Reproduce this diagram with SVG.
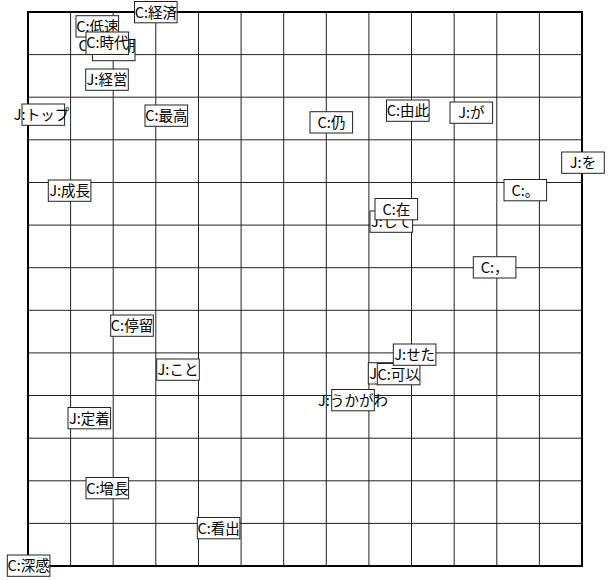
<svg xmlns="http://www.w3.org/2000/svg" width="608" height="580" viewBox="0 0 608 580">
<style>
.bg{fill:#fff}
.grid{fill:none;stroke:#222;stroke-width:1}
.frame{fill:none;stroke:#000;stroke-width:2}
.node rect{fill:#fff;stroke:#222;stroke-width:1}
.node text{font-family:"Noto Sans CJK JP","Noto Sans CJK SC",sans-serif;font-size:14.5px;text-anchor:middle;fill:#000}
</style>
<rect class="bg" x="0" y="0" width="608" height="580"/>
<g id="grid">
<path class="grid" d="M70.6 12V566M113.2 12V566M155.8 12V566M198.5 12V566M241.1 12V566M283.7 12V566M326.3 12V566M368.9 12V566M411.5 12V566M454.2 12V566M496.8 12V566M539.4 12V566
M28 54.6H582M28 97.2H582M28 139.8H582M28 182.5H582M28 225.1H582M28 267.7H582M28 310.3H582M28 352.9H582M28 395.5H582M28 438.2H582M28 480.8H582M28 523.4H582"/>
<rect class="frame" x="28" y="12" width="554" height="554"/>
</g>
<g id="connectors"></g>
<g id="n-keizai" class="node"><rect x="134.5" y="1.5" width="42.6" height="21.3"/><text x="155.8" y="17.5">C:経済</text></g>
<g id="n-teisoku" class="node"><rect x="76" y="15.7" width="42.6" height="21.3"/><text x="97.3" y="31.7">C:低速</text></g>
<g id="n-seichoki" class="node"><rect x="92.4" y="39.4" width="42.6" height="21.3"/><text x="107" y="50.5">C:成長期</text></g>
<g id="n-jidai" class="node"><rect x="86" y="32" width="42.6" height="22.5"/><text x="107.3" y="48">C:時代</text></g>
<g id="n-keiei" class="node"><rect x="85.7" y="69" width="42.6" height="21.3"/><text x="107" y="85">J:経営</text></g>
<g id="n-top" class="node"><rect x="22" y="104" width="42.6" height="21.3"/><text x="41.5" y="120">J:トップ</text></g>
<g id="n-saiko" class="node"><rect x="145" y="105" width="42.6" height="21.3"/><text x="166.3" y="121">C:最高</text></g>
<g id="n-reng" class="node"><rect x="310" y="111.7" width="42.6" height="21.3"/><text x="331.3" y="127.7">C:仍</text></g>
<g id="n-yuci" class="node"><rect x="386.5" y="100" width="42.6" height="21.3"/><text x="407.8" y="116">C:由此</text></g>
<g id="n-ga" class="node"><rect x="450" y="102" width="42.6" height="21.3"/><text x="471.3" y="118">J:が</text></g>
<g id="n-wo" class="node"><rect x="561.7" y="152" width="42.6" height="21.3"/><text x="583" y="168">J:を</text></g>
<g id="n-maru" class="node"><rect x="504" y="179.5" width="42.6" height="21.3"/><text x="525.3" y="195.5">C:。</text></g>
<g id="n-comma" class="node"><rect x="473.3" y="256.7" width="42.6" height="21.3"/><text x="494.6" y="272.7">C:，</text></g>
<g id="n-seicho" class="node"><rect x="48.3" y="180" width="42.6" height="21.3"/><text x="69.6" y="196">J:成長</text></g>
<g id="n-shite" class="node"><rect x="370" y="211" width="42.6" height="21.3"/><text x="391.3" y="227">J:して</text></g>
<g id="n-zai" class="node"><rect x="375" y="198.5" width="42.6" height="21.3"/><text x="396.3" y="214.5">C:在</text></g>
<g id="n-tingliu" class="node"><rect x="110.7" y="315" width="42.6" height="21.3"/><text x="132" y="331">C:停留</text></g>
<g id="n-koto" class="node"><rect x="156.7" y="359" width="42.6" height="21.3"/><text x="178" y="375">J:こと</text></g>
<g id="n-teichaku" class="node"><rect x="68" y="407.5" width="42.6" height="21.3"/><text x="89.3" y="423.5">J:定着</text></g>
<g id="n-kara" class="node"><rect x="368.3" y="362.7" width="42.6" height="21.3"/><text x="389.6" y="378.7">J:から</text></g>
<g id="n-keyi" class="node"><rect x="377.3" y="363.5" width="42.6" height="21.3"/><text x="398.6" y="379.5">C:可以</text></g>
<g id="n-seta" class="node"><rect x="393.3" y="344" width="42.6" height="21.3"/><text x="414.6" y="360">J:せた</text></g>
<g id="n-ukagawa" class="node"><rect x="331.7" y="389.5" width="42.6" height="21.3"/><text x="353" y="405.5">J:うかがわ</text></g>
<g id="n-zengzhang" class="node"><rect x="86" y="477.5" width="42.6" height="21.3"/><text x="107.3" y="493.5">C:增長</text></g>
<g id="n-kanchu" class="node"><rect x="197.3" y="517.5" width="42.6" height="21.3"/><text x="218.6" y="533.5">C:看出</text></g>
<g id="n-shengan" class="node"><rect x="7.3" y="555" width="42.6" height="21.3"/><text x="28.6" y="571">C:深感</text></g>
</svg>
